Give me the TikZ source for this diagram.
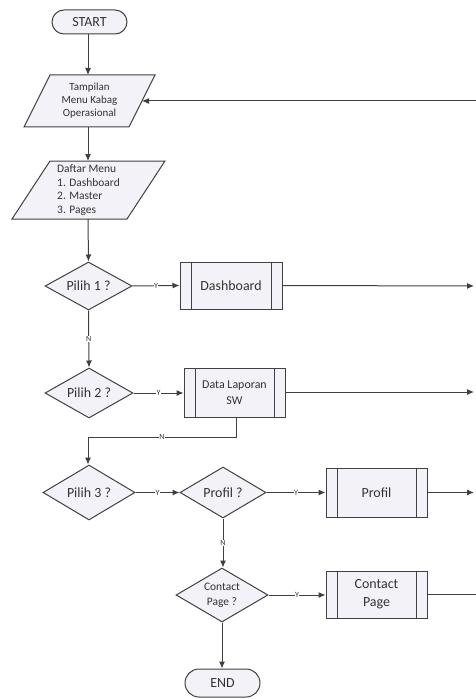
\documentclass[tikz,border=0pt]{standalone}
\usepackage{fontspec}
\setmainfont{Carlito}
\usetikzlibrary{shapes.geometric,shapes.misc,arrows.meta}
\definecolor{ln}{HTML}{404040}
\definecolor{tx}{HTML}{333333}
\definecolor{fl}{HTML}{F2F2F8}
\tikzset{
  every node/.style={text=tx},
  conn/.style={draw=ln,line width=1bp},
  arr/.style={conn,-{Latex[length=7bp,width=6bp]}},
  termbox/.style={draw=ln,line width=1bp,fill=fl,rounded rectangle,minimum width=75bp,inner sep=0pt,font=\fontsize{14}{16}\selectfont},
  decbox/.style={draw=ln,line width=1bp,fill=fl,diamond,inner sep=0pt,aspect=1.8,align=center},
  subproc/.style={draw=ln,line width=1bp,fill=fl,rectangle,inner sep=0pt,align=center,
    minimum width=101bp,minimum height=48bp,
    path picture={\draw[ln,line width=1bp] ([xshift=11bp]path picture bounding box.north west) -- ([xshift=11bp]path picture bounding box.south west);
                  \draw[ln,line width=1bp] ([xshift=-11bp]path picture bounding box.north east) -- ([xshift=-11bp]path picture bounding box.south east);}},
  iobox/.style={draw=ln,line width=1bp,fill=fl},
  yn/.style={fill=white,inner sep=0.5bp,font=\fontsize{8}{9}\selectfont}
}
\begin{document}
\begin{tikzpicture}[x=1bp,y=-1bp]
\useasboundingbox (0,0) rectangle (476,699);
% terminators
\node[termbox,minimum height=24bp] (start) at (89.5,22) {START};
\node[termbox,minimum height=28bp] (end) at (222.5,683) {END};
% parallelograms
\path[iobox] (50,75) -- (155,75) -- (129,127) -- (24,127) -- cycle;
\node[align=center,font=\fontsize{11}{13}\selectfont] (tampil) at (89.5,101) {Tampilan\\Menu Kabag\\Operasional};
\coordinate (tampT) at (88,75);
\coordinate (tampB) at (88,127);
\coordinate (tampR) at (142,101);
\path[iobox] (50,161) -- (165,161) -- (127,219) -- (12,219) -- cycle;
\node[align=left,font=\fontsize{11.5}{13.5}\selectfont] (daftar) at (88.5,190) {Daftar Menu\\1. Dashboard\\2. Master\\3. Pages};
\coordinate (dafT) at (88,161);
\coordinate (dafB) at (88,219);
% decisions
\node[decbox,minimum width=87bp,minimum height=48bp,font=\fontsize{14}{16}\selectfont] (p1) at (88.5,286) {Pilih 1 ?};
\node[decbox,minimum width=88bp,minimum height=50bp,font=\fontsize{14}{16}\selectfont] (p2) at (89,393) {Pilih 2 ?};
\node[decbox,minimum width=92bp,minimum height=55bp,font=\fontsize{14}{16}\selectfont] (p3) at (89,492.5) {Pilih 3 ?};
\node[decbox,minimum width=86bp,minimum height=51bp,font=\fontsize{14}{16}\selectfont] (prof) at (223,492.5) {Profil ?};
\node[decbox,minimum width=92bp,minimum height=54bp,font=\fontsize{11.5}{15}\selectfont] (cont) at (222,595) {Contact\\Page ?};
% sub processes
\node[subproc,minimum width=102bp,minimum height=47bp,font=\fontsize{14}{16}\selectfont] (dash) at (231,285.5) {Dashboard};
\node[subproc,minimum height=49bp,font=\fontsize{12}{16}\selectfont] (lap) at (234.5,392.5) {Data Laporan\\SW};
\node[subproc,minimum height=49bp,font=\fontsize{14}{16}\selectfont] (profbox) at (376.5,492.5) {Profil};
\node[subproc,minimum height=47bp,font=\fontsize{14}{18}\selectfont] (contbox) at (376.5,594.5) {Contact\\Page};
% free ends
\coordinate (rTop) at (476,101);
\coordinate (rDash) at (474,286);
\coordinate (rLap) at (474,392);
\coordinate (rProf) at (474,492.5);
\coordinate (rCont) at (476,594.5);
\coordinate (nA) at (236,437);
\coordinate (nB) at (88,437);
% connectors
\draw[arr] (start.south -| tampT) -- (tampT);
\draw[arr] (tampB) -- (dafT);
\draw[arr] (dafB) -- (p1.north);
\draw[arr] (p1.south) -- node[yn]{N} (p2.north);
\draw[arr] (p1.east) -- node[yn]{Y} (dash.west);
\draw[arr] (p2.east) -- node[yn]{Y} (p2.east -| lap.west);
\draw[arr] (dash.east) -- (rDash);
\draw[arr] (lap.east |- rLap) -- (rLap);
\draw[conn] (lap.south -| nA) -- (nA) -- node[yn]{N} (nB);
\draw[arr] (nB) -- (p3.north -| nB);
\draw[arr] (p3.east) -- node[yn]{Y} (prof.west);
\draw[arr] (prof.east) -- node[yn]{Y} (profbox.west);
\draw[arr] (profbox.east) -- (rProf);
\draw[arr] (prof.south) -- node[yn]{N} (cont.north -| prof.south);
\draw[arr] (cont.east) -- node[yn]{Y} (cont.east -| contbox.west);
\draw[conn] (contbox.east) -- (rCont);
\draw[arr] (cont.south) -- (end.north -| cont.south);
\draw[arr] (rTop) -- (tampR);
\end{tikzpicture}
\end{document}
